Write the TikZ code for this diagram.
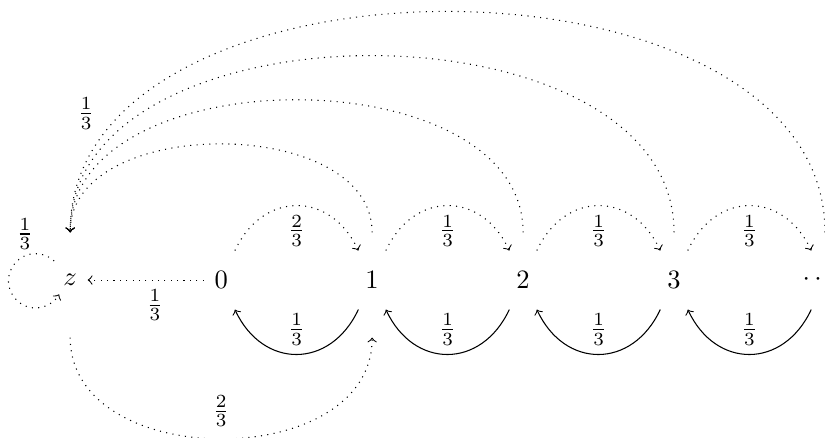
\documentclass[tikz,border=0pt]{standalone}
\usetikzlibrary{shapes.geometric}
\begin{document}
\begin{tikzpicture}[
  st/.style={ellipse, inner sep=0pt, minimum width=0.45cm, minimum height=1.25cm},
  lab/.style={inner sep=3.33pt},
  dotarrow/.style={dotted,->},
  solarrow/.style={->},
  shortarc/.style={bend left=65, looseness=1.37},
  longarc/.style={out=90, in=90, looseness=1},
]
\useasboundingbox (-0.93,-2.08) rectangle (10.0,3.71);
\node[st] (z)  at (0,0)  {$z$};
\node[st] (n0) at (2,0)  {$0$};
\node[st] (n1) at (4,0)  {$1$};
\node[st] (n2) at (6,0)  {$2$};
\node[st] (n3) at (8,0)  {$3$};
\node[st] (nd) at (10,0) {\makebox[0pt]{$\cdots$\hspace{0.18cm}}};

% self loop at z
\draw[dotarrow] (z.130) arc[start angle=47, end angle=330, radius=0.36cm];
\node[lab] (lz) at ([shift={(-0.60,0.61)}]z.center) {$\frac{1}{3}$};

% 0 -> z
\draw[dotarrow] (n0) -- node[lab, below, pos=0.42] {$\frac{1}{3}$} (z);

% short upper arcs
\draw[dotarrow] (n0) to[shortarc] node[lab, below] {$\frac{2}{3}$} (n1);
\draw[dotarrow] (n1) to[shortarc] node[lab, below] {$\frac{1}{3}$} (n2);
\draw[dotarrow] (n2) to[shortarc] node[lab, below] {$\frac{1}{3}$} (n3);
\draw[dotarrow] (n3) to[shortarc] node[lab, below] {$\frac{1}{3}$} (nd);

% short lower arcs
\draw[solarrow] (n1) to[shortarc] node[lab, above] {$\frac{1}{3}$} (n0);
\draw[solarrow] (n2) to[shortarc] node[lab, above] {$\frac{1}{3}$} (n1);
\draw[solarrow] (n3) to[shortarc] node[lab, above] {$\frac{1}{3}$} (n2);
\draw[solarrow] (nd) to[shortarc] node[lab, above] {$\frac{1}{3}$} (n3);

% long arcs to z
\draw[dotarrow] (n1) to[longarc] (z);
\draw[dotarrow] (n2) to[longarc] (z);
\draw[dotarrow] (n3) to[longarc] (z);
\draw[dotarrow] (nd) to[longarc] (z);
\node[lab] (ll) at ([shift={(0.21,2.21)}]z.center) {$\frac{1}{3}$};

% z -> 1 below
\draw[dotarrow, shorten <=0.13cm, shorten >=0.13cm] (z) to[out=-90, in=-90, looseness=1.23] node[lab, above] {$\frac{2}{3}$} (n1);
\end{tikzpicture}
\end{document}
